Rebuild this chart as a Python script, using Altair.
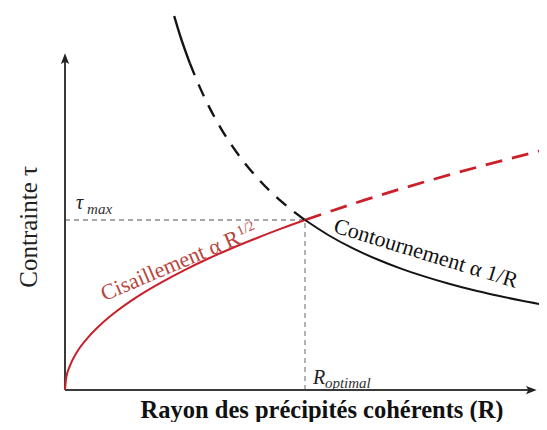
import altair as alt
import pandas as pd

# ---- data (R in units of R_optimal, tau in units of tau_max)
red_solid_R = [0, 0.005, 0.02, 0.05, 0.1, 0.15, 0.2, 0.3, 0.4, 0.5, 0.6, 0.7, 0.8, 0.9, 1.0]
red_solid_tau = [0, 0.071, 0.141, 0.224, 0.316, 0.387, 0.447, 0.548, 0.632, 0.707, 0.775, 0.837, 0.894, 0.949, 1.0]

red_dash_R = [1.0, 1.25, 1.5, 1.75, 2.0]
red_dash_tau = [1.0, 1.118, 1.225, 1.323, 1.414]

black_solid_R = [1.0, 1.1, 1.2, 1.3, 1.4, 1.5, 1.6, 1.7, 1.8, 1.9, 2.0]
black_solid_tau = [1.0, 0.909, 0.833, 0.769, 0.714, 0.667, 0.625, 0.588, 0.556, 0.526, 0.5]

black_top_R = [0.455, 0.48, 0.52]
black_top_tau = [2.2, 2.083, 1.923]

black_dash_R = [0.52, 0.56, 0.6, 0.65, 0.7, 0.75, 0.8, 0.85, 0.9, 0.95, 1.0]
black_dash_tau = [1.923, 1.786, 1.667, 1.538, 1.429, 1.333, 1.25, 1.176, 1.111, 1.053, 1.0]

ref_R = [0, 1, 1]
ref_tau = [1, 1, 0]

W, H = 531, 414
xs = alt.Scale(domain=[-0.2375, 1.975], nice=False, zero=False)
ys = alt.Scale(domain=[-0.188, 2.247], nice=False, zero=False)

def df(R, t):
    return pd.DataFrame({"R": R, "tau": t, "o": list(range(len(R)))})

def line(R, t, color, width, dash=None, interp="linear"):
    kw = dict(color=color, strokeWidth=width, clip=True, interpolate=interp)
    if dash:
        kw["strokeDash"] = dash
    return alt.Chart(df(R, t)).mark_line(**kw).encode(
        x=alt.X("R:Q", scale=xs, axis=None),
        y=alt.Y("tau:Q", scale=ys, axis=None),
        order="o:Q",
    )

RED = "#c9202a"
BLK = "#141414"
SERIF = "Liberation Serif"

# axes
axis_x = alt.Chart(pd.DataFrame({"R": [0], "R2": [1.94], "tau": [0]})).mark_rule(
    color="#3a3a3a", strokeWidth=2).encode(
    x=alt.X("R:Q", scale=xs, axis=None), x2="R2:Q", y=alt.Y("tau:Q", scale=ys, axis=None))
axis_y = alt.Chart(pd.DataFrame({"R": [0], "tau": [0], "tau2": [1.94]})).mark_rule(
    color="#3a3a3a", strokeWidth=2).encode(
    x=alt.X("R:Q", scale=xs, axis=None), y=alt.Y("tau:Q", scale=ys, axis=None), y2="tau2:Q")

arrow = "M0,-1L0.62,0.6L0,0.25L-0.62,0.6Z"
arrows = alt.Chart(pd.DataFrame({"R": [0, 1.9375], "tau": [1.941, 0], "ang": [0, 90]})).mark_point(
    shape=arrow, filled=True, color="#222", size=180, opacity=1).encode(
    x=alt.X("R:Q", scale=xs, axis=None), y=alt.Y("tau:Q", scale=ys, axis=None),
    angle=alt.Angle("ang:Q", scale=None))

ref = line(ref_R, ref_tau, "#8a8a8a", 1.3, [5, 4])

curves = [
    line(red_solid_R, red_solid_tau, RED, 2, interp="monotone"),
    line(red_dash_R, red_dash_tau, RED, 2.8, [17, 10], interp="monotone"),
    line(black_solid_R, black_solid_tau, BLK, 2, interp="monotone"),
    line(black_top_R, black_top_tau, BLK, 2.4, interp="monotone"),
    line(black_dash_R, black_dash_tau, BLK, 2.4, [13, 10], interp="monotone"),
]

def txt(items, **kw):
    d = pd.DataFrame(items, columns=["R", "tau", "t"])
    return alt.Chart(d).mark_text(font=SERIF, **kw).encode(
        x=alt.X("R:Q", scale=xs, axis=None), y=alt.Y("tau:Q", scale=ys, axis=None), text="t:N")

labels = [
    txt([[0.046, 1.065, "τ"]], fontSize=20, fontStyle="italic", align="left", baseline="alphabetic", color="#222"),
    txt([[0.092, 1.035, "max"]], fontSize=15, fontStyle="italic", align="left", baseline="alphabetic", color="#333"),
    txt([[1.033, 0.035, "R"]], fontSize=20, fontStyle="italic", align="left", baseline="alphabetic", color="#222"),
    txt([[1.083, 0.01, "optimal"]], fontSize=15, fontStyle="italic", align="left", baseline="alphabetic", color="#333"),
    txt([[1.071, -0.165, "Rayon des précipités cohérents (R)"]], fontSize=24.5, fontWeight="bold",
        align="center", baseline="alphabetic", color="#111"),
    txt([[-0.15, 0.96, "Contrainte τ"]], fontSize=25, angle=270, align="center", baseline="middle", color="#222"),
    txt([[0.734, 0.864, "Cisaillement α R"]], fontSize=22, angle=337, align="right", baseline="alphabetic", color="#b8453c"),
    txt([[0.725, 0.908, "1/2"]], fontSize=14, angle=337, align="left", baseline="alphabetic", color="#b8453c"),
    txt([[1.495, 0.765, "Contournement α 1/R"]], fontSize=22, angle=17, align="center", baseline="alphabetic", color="#111"),
]

chart = alt.layer(ref, axis_x, axis_y, arrows, *curves, *labels).properties(
    width=W, height=H, autosize=alt.AutoSizeParams(type="none"), padding=0,
).configure_view(stroke=None)

chart.save("out.html", embed_options={"renderer": "svg", "actions": False})
